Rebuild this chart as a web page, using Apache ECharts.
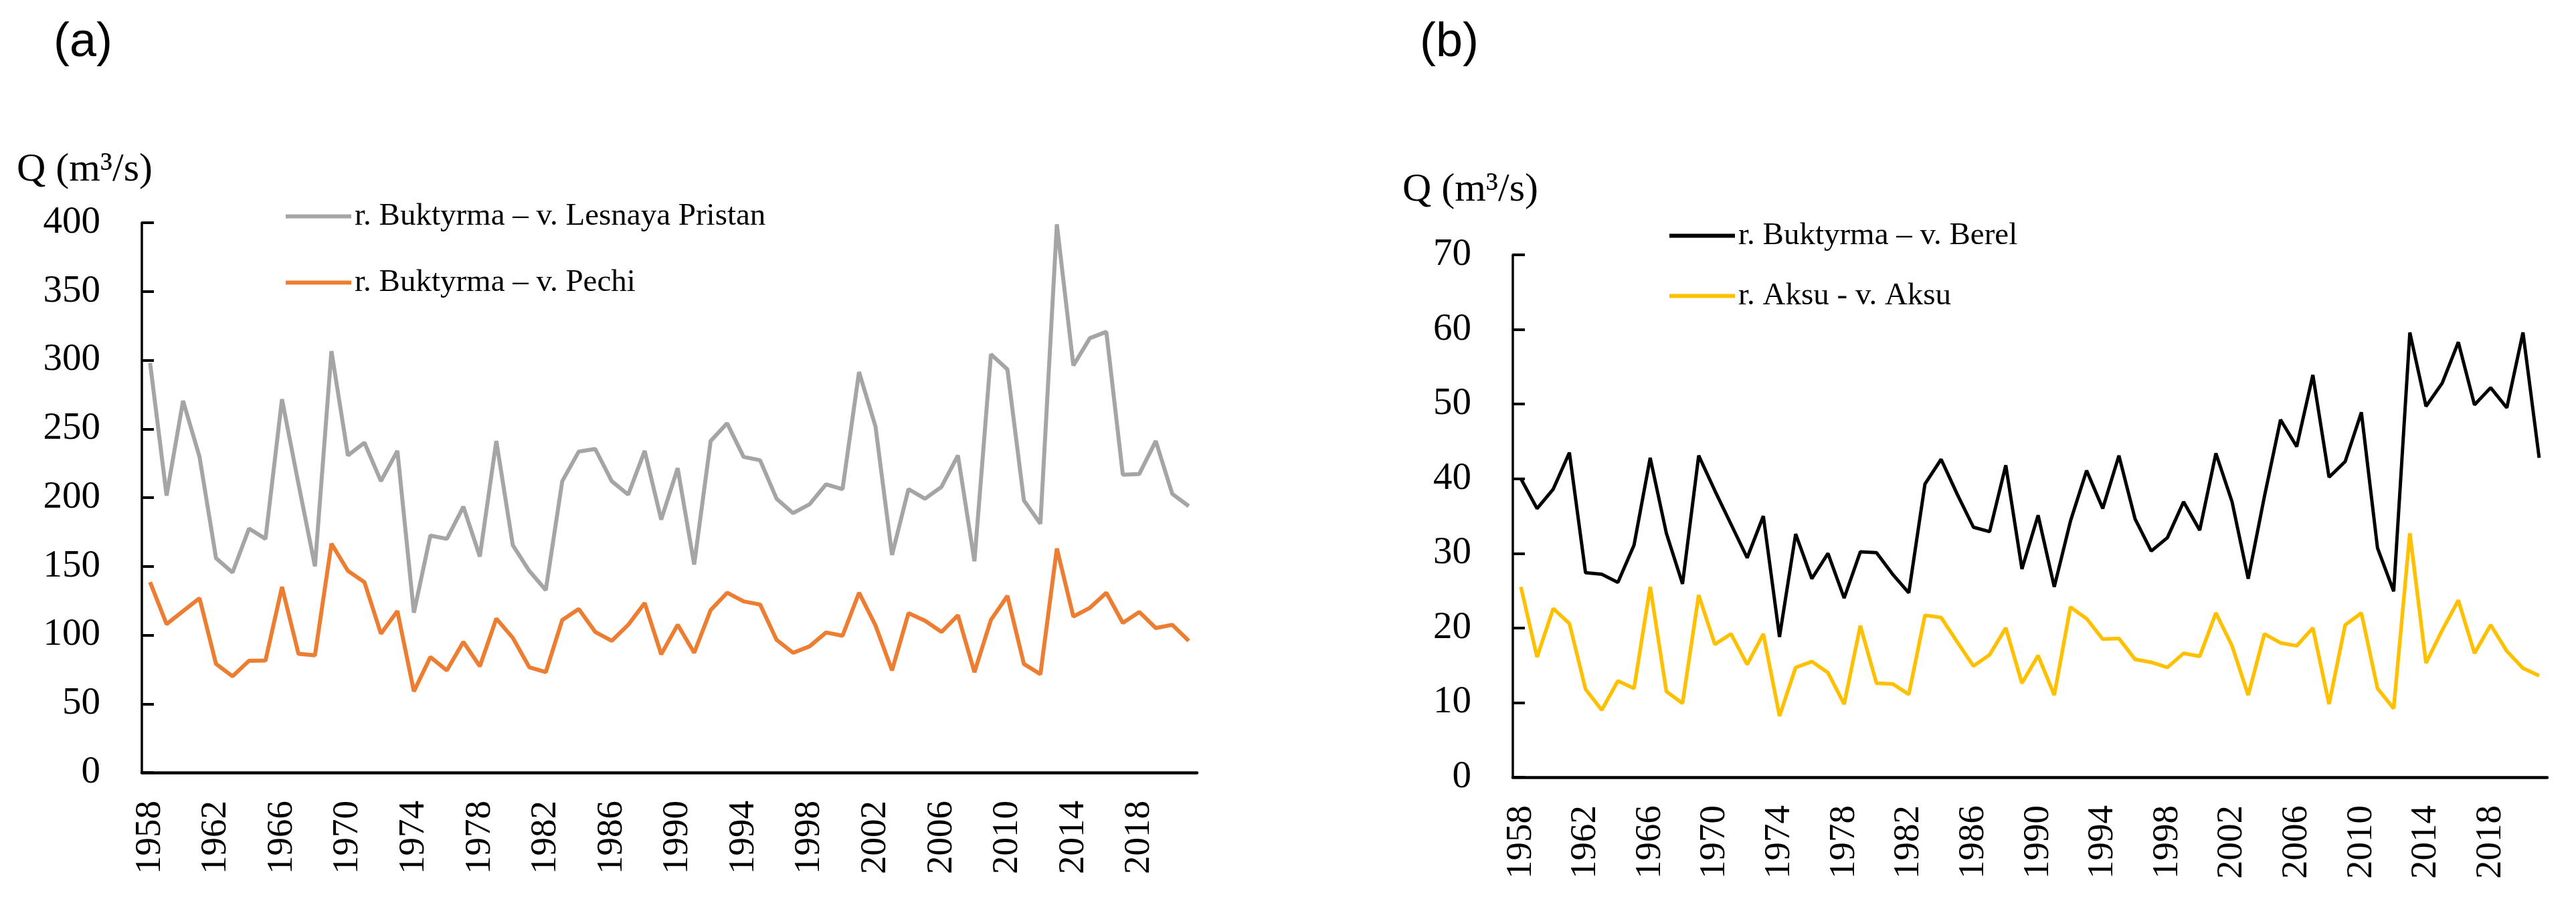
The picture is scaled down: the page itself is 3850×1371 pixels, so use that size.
<!DOCTYPE html>
<html>
<head>
<meta charset="utf-8">
<script src="https://cdn.jsdelivr.net/npm/echarts@6/dist/echarts.min.js"></script>
<style>
html,body{margin:0;padding:0;background:#fff;}
#chart{width:3850px;height:1371px;}
</style>
</head>
<body>
<div id="chart"></div>
<script>
// Years 1958-2021
const years = [];
for (let y = 1958; y <= 2021; y++) years.push(String(y));

const nameLesnaya = 'r. Buktyrma \u2013 v. Lesnaya Pristan';
const namePechi = 'r. Buktyrma \u2013 v. Pechi';
const nameBerel = 'r. Buktyrma \u2013 v. Berel';
const nameAksu = 'r. Aksu - v. Aksu';

const lesnaya = [298, 201.5, 270.4, 229.6, 156, 145.5, 177.5, 170, 271.6, 210, 150, 306.6, 230.7, 240, 212, 234,
  116.3, 172.4, 170, 193.4, 157.2, 241.2, 165.4, 146.7, 132.7, 212, 233.5, 235.4, 212, 202.2, 234, 184,
  221.4, 151.3, 241.2, 254.1, 229.6, 227.2, 199.2, 188.7, 195.2, 209.7, 206.2, 291.4, 251.7, 158.3, 206.2, 199.2,
  207.8, 230.7, 153.7, 304.3, 293.3, 198, 181, 398.8, 296.1, 316, 320.6, 216.7, 217.2, 241.2, 202.7, 193.8];

const pechi = [138.5, 108, 117.5, 126.8, 79, 70, 81.3, 81.5, 135, 86.4, 85.3, 166.5, 146.7, 138.5, 101, 117.5,
  59, 84, 74.3, 95, 77.3, 112, 98, 76.6, 73, 111, 119, 102.3, 95.8, 107.5, 123.3, 86,
  107.5, 87.1, 118.2, 130.8, 124.5, 122.2, 96.5, 87.1, 91.8, 101.9, 99.5, 130.8, 107, 74.3, 115.9, 110.5,
  102.3, 114.4, 73, 111, 128.5, 79, 71.5, 163, 113.5, 119.8, 130.8, 108.9, 116.8, 105.1, 107.5, 95.8];

const berel = [40.0, 36.0, 38.6, 43.5, 27.4, 27.2, 26.1, 31.1, 42.8, 32.7, 25.9, 43.1, 38.4, 33.9, 29.4, 35.0,
  18.8, 32.6, 26.6, 30.0, 24.0, 30.2, 30.1, 27.2, 24.7, 39.3, 42.6, 37.9, 33.5, 32.9, 41.8, 27.9,
  35.1, 25.5, 34.3, 41.1, 36.0, 43.1, 34.6, 30.3, 32.1, 36.9, 33.1, 43.4, 36.9, 26.6, 37.6, 47.9,
  44.3, 53.9, 40.2, 42.3, 48.9, 30.7, 24.9, 59.6, 49.7, 52.8, 58.3, 49.9, 52.2, 49.5, 59.6, 42.8];

const aksu = [25.5, 16.1, 22.6, 20.6, 11.8, 9.0, 12.9, 11.9, 25.5, 11.5, 9.9, 24.4, 17.8, 19.2, 15.1, 19.2,
  8.2, 14.7, 15.5, 14.0, 9.8, 20.3, 12.6, 12.5, 11.1, 21.7, 21.4, 18.1, 14.9, 16.4, 20.0, 12.6,
  16.3, 11.0, 22.8, 21.25, 18.5, 18.6, 15.8, 15.4, 14.7, 16.6, 16.2, 22.0, 17.6, 11.0, 19.2, 18.0,
  17.6, 20.0, 9.8, 20.4, 22.0, 11.9, 9.2, 32.7, 15.3, 19.7, 23.7, 16.6, 20.4, 16.9, 14.6, 13.6];

const serif = '"Liberation Serif", "Times New Roman", serif';
const sans = '"Liberation Sans", Arial, sans-serif';

function xAxisCfg(gridIndex) {
  return {
    type: 'category', gridIndex: gridIndex, data: years, boundaryGap: true,
    axisLine: { show: true, lineStyle: { color: '#000', width: 4.5 } },
    axisTick: { show: false },
    axisLabel: { interval: 3, rotate: 90, margin: 42, color: '#000', fontFamily: serif, fontSize: 55 },
    splitLine: { show: false }
  };
}
function yAxisCfg(gridIndex, max, interval) {
  return {
    type: 'value', gridIndex: gridIndex, min: 0, max: max, interval: interval,
    axisLine: { show: true, lineStyle: { color: '#000', width: 3.5 } },
    axisTick: { show: true, inside: true, length: 18, lineStyle: { color: '#000', width: 4 } },
    axisLabel: { margin: 62, color: '#000', fontFamily: serif, fontSize: 57 },
    splitLine: { show: false }
  };
}
function legendCfg(name, left, top) {
  return {
    data: [name], left: left, top: top, padding: 0, icon: 'rect',
    itemWidth: 98, itemHeight: 6, selectedMode: false,
    textStyle: { fontFamily: serif, fontSize: 47, color: '#000', lineHeight: 47 }
  };
}
function lineSeries(name, data, color, width, xi, yi) {
  return {
    name: name, type: 'line', data: data, xAxisIndex: xi, yAxisIndex: yi,
    symbol: 'none', showSymbol: false, smooth: false, animation: false,
    lineStyle: { color: color, width: width }, itemStyle: { color: color }
  };
}

const chart = echarts.init(document.getElementById('chart'));
chart.setOption({
  backgroundColor: '#fff',
  animation: false,
  grid: [
    { left: 212, top: 333, width: 1577, height: 822 },
    { left: 2261, top: 381, width: 1546, height: 781 }
  ],
  xAxis: [xAxisCfg(0), xAxisCfg(1)],
  yAxis: [yAxisCfg(0, 400, 50), yAxisCfg(1, 70, 10)],
  legend: [
    legendCfg(nameLesnaya, 427, 300),
    legendCfg(namePechi, 427, 399),
    legendCfg(nameBerel, 2495, 329),
    legendCfg(nameAksu, 2495, 419)
  ],
  graphic: [
    { type: 'text', left: 80, top: 28, style: { text: '(a)', fontFamily: sans, fontSize: 72, fill: '#000' } },
    { type: 'text', left: 2122, top: 28, style: { text: '(b)', fontFamily: sans, fontSize: 72, fill: '#000' } },
    { type: 'text', x: 25, y: 254, style: { text: 'Q (m\u00B3/s)', fontFamily: serif, fontSize: 60, fill: '#000', verticalAlign: 'middle' } },
    { type: 'text', x: 2096, y: 284, style: { text: 'Q (m\u00B3/s)', fontFamily: serif, fontSize: 60, fill: '#000', verticalAlign: 'middle' } }
  ],
  series: [
    lineSeries(nameLesnaya, lesnaya, '#A5A5A5', 6, 0, 0),
    lineSeries(namePechi, pechi, '#ED7D31', 6, 0, 0),
    lineSeries(nameBerel, berel, '#000000', 5, 1, 1),
    lineSeries(nameAksu, aksu, '#FFC000', 5.5, 1, 1)
  ]
});
</script>
</body>
</html>
